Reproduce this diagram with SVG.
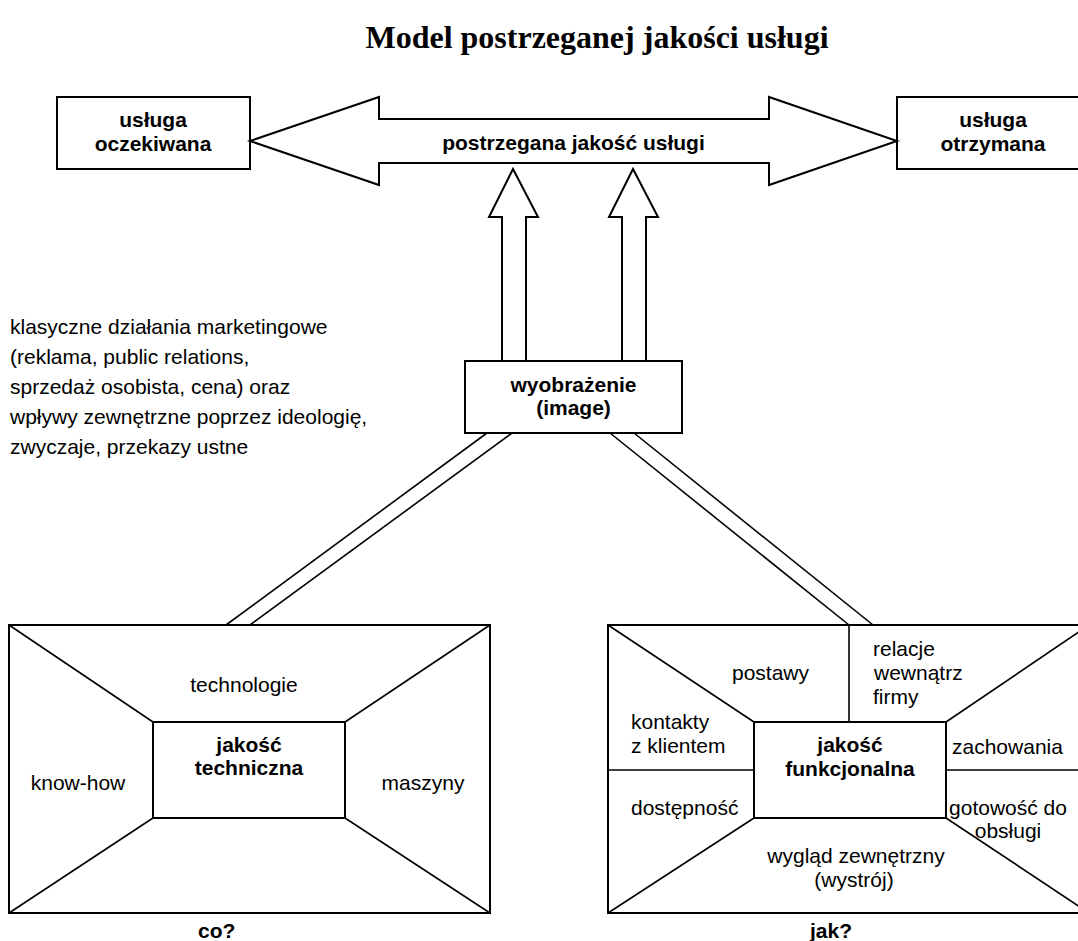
<svg xmlns="http://www.w3.org/2000/svg" width="1078" height="941" viewBox="0 0 1078 941">
<style>
.bx{fill:#fff;stroke:#000;stroke-width:2}
.ln{stroke:#000;stroke-width:1.6;fill:none}
.t{font-family:"Liberation Sans",Arial,sans-serif;font-size:21px;fill:#000}
.b{font-weight:bold}
.c{text-anchor:middle}
.title{font-family:"Liberation Serif","Times New Roman",serif;font-size:32px;font-weight:bold;text-anchor:middle;fill:#000}
</style>
<rect width="1078" height="941" fill="#fff"/>
<text class="title" x="597" y="48">Model postrzeganej jakości usługi</text>

<g id="connectors">
  <polygon class="bx" points="513,169 538,217 526,217 526,361 502,361 502,217 489,217"/>
  <polygon class="bx" points="633,169 658,217 646,217 646,361 622,361 622,217 609,217"/>
  <line class="ln" x1="487" y1="433" x2="226" y2="625"/>
  <line class="ln" x1="512" y1="433" x2="250" y2="625"/>
  <line class="ln" x1="610" y1="433" x2="849" y2="625"/>
  <line class="ln" x1="634" y1="433" x2="873" y2="625"/>
</g>

<g id="usluga-oczekiwana">
  <rect class="bx" x="57" y="97" width="193" height="72"/>
  <text class="t b c" x="153" y="127">usługa</text>
  <text class="t b c" x="153" y="151">oczekiwana</text>
</g>

<g id="usluga-otrzymana">
  <rect class="bx" x="897" y="97" width="192" height="72"/>
  <text class="t b c" x="993" y="127">usługa</text>
  <text class="t b c" x="993" y="151">otrzymana</text>
</g>

<g id="postrzegana-jakosc">
  <polygon class="bx" points="250,141 379,97 379,119 769,119 769,97 897,141 769,185 769,163 379,163 379,185"/>
  <text class="t b c" x="573.5" y="150">postrzegana jakość usługi</text>
</g>

<g id="wyobrazenie">
  <rect class="bx" x="465" y="361" width="217" height="72"/>
  <text class="t b c" x="573.5" y="392">wyobrażenie</text>
  <text class="t b c" x="573.5" y="415">(image)</text>
</g>

<g id="klasyczne-dzialania">
  <text class="t" x="10" y="334">klasyczne działania marketingowe</text>
  <text class="t" x="10" y="364">(reklama, public relations,</text>
  <text class="t" x="10" y="394">sprzedaż osobista, cena) oraz</text>
  <text class="t" x="10" y="424">wpływy zewnętrzne poprzez ideologię,</text>
  <text class="t" x="10" y="454">zwyczaje, przekazy ustne</text>
</g>

<g id="jakosc-techniczna">
  <rect class="bx" x="9" y="625" width="481" height="288"/>
  <line class="ln" x1="9" y1="625" x2="153" y2="722"/>
  <line class="ln" x1="490" y1="625" x2="345" y2="722"/>
  <line class="ln" x1="9" y1="913" x2="153" y2="818"/>
  <line class="ln" x1="490" y1="913" x2="345" y2="818"/>
  <rect class="bx" x="153" y="722" width="192" height="96"/>
  <text class="t b c" x="249" y="752">jakość</text>
  <text class="t b c" x="249" y="775">techniczna</text>
  <text class="t c" x="244" y="692">technologie</text>
  <text class="t c" x="78" y="790">know-how</text>
  <text class="t c" x="423" y="790">maszyny</text>
  <text class="t b" x="198" y="938">co?</text>
</g>

<g id="jakosc-funkcjonalna">
  <rect class="bx" x="608" y="625" width="481" height="288"/>
  <line class="ln" x1="608" y1="625" x2="754" y2="722"/>
  <line class="ln" x1="1089" y1="625" x2="946" y2="722"/>
  <line class="ln" x1="608" y1="913" x2="754" y2="818"/>
  <line class="ln" x1="1089" y1="913" x2="946" y2="818"/>
  <line class="ln" x1="849" y1="625" x2="849" y2="722"/>
  <line class="ln" x1="608" y1="770" x2="754" y2="770"/>
  <line class="ln" x1="946" y1="770" x2="1089" y2="770"/>
  <rect class="bx" x="754" y="722" width="192" height="96"/>
  <text class="t b c" x="850" y="752">jakość</text>
  <text class="t b c" x="850" y="776">funkcjonalna</text>
  <text class="t" x="732" y="680">postawy</text>
  <text class="t" x="873" y="656">relacje</text>
  <text class="t" x="874" y="680">wewnątrz</text>
  <text class="t" x="873" y="704">firmy</text>
  <text class="t" x="631" y="729">kontakty</text>
  <text class="t" x="631" y="753">z klientem</text>
  <text class="t" x="952" y="754">zachowania</text>
  <text class="t" x="631" y="815">dostępność</text>
  <text class="t c" x="1008" y="815">gotowość do</text>
  <text class="t c" x="1008" y="838">obsługi</text>
  <text class="t c" x="856" y="863">wygląd zewnętrzny</text>
  <text class="t c" x="854" y="887">(wystrój)</text>
  <text class="t b" x="810" y="938">jak?</text>
</g>
</svg>
